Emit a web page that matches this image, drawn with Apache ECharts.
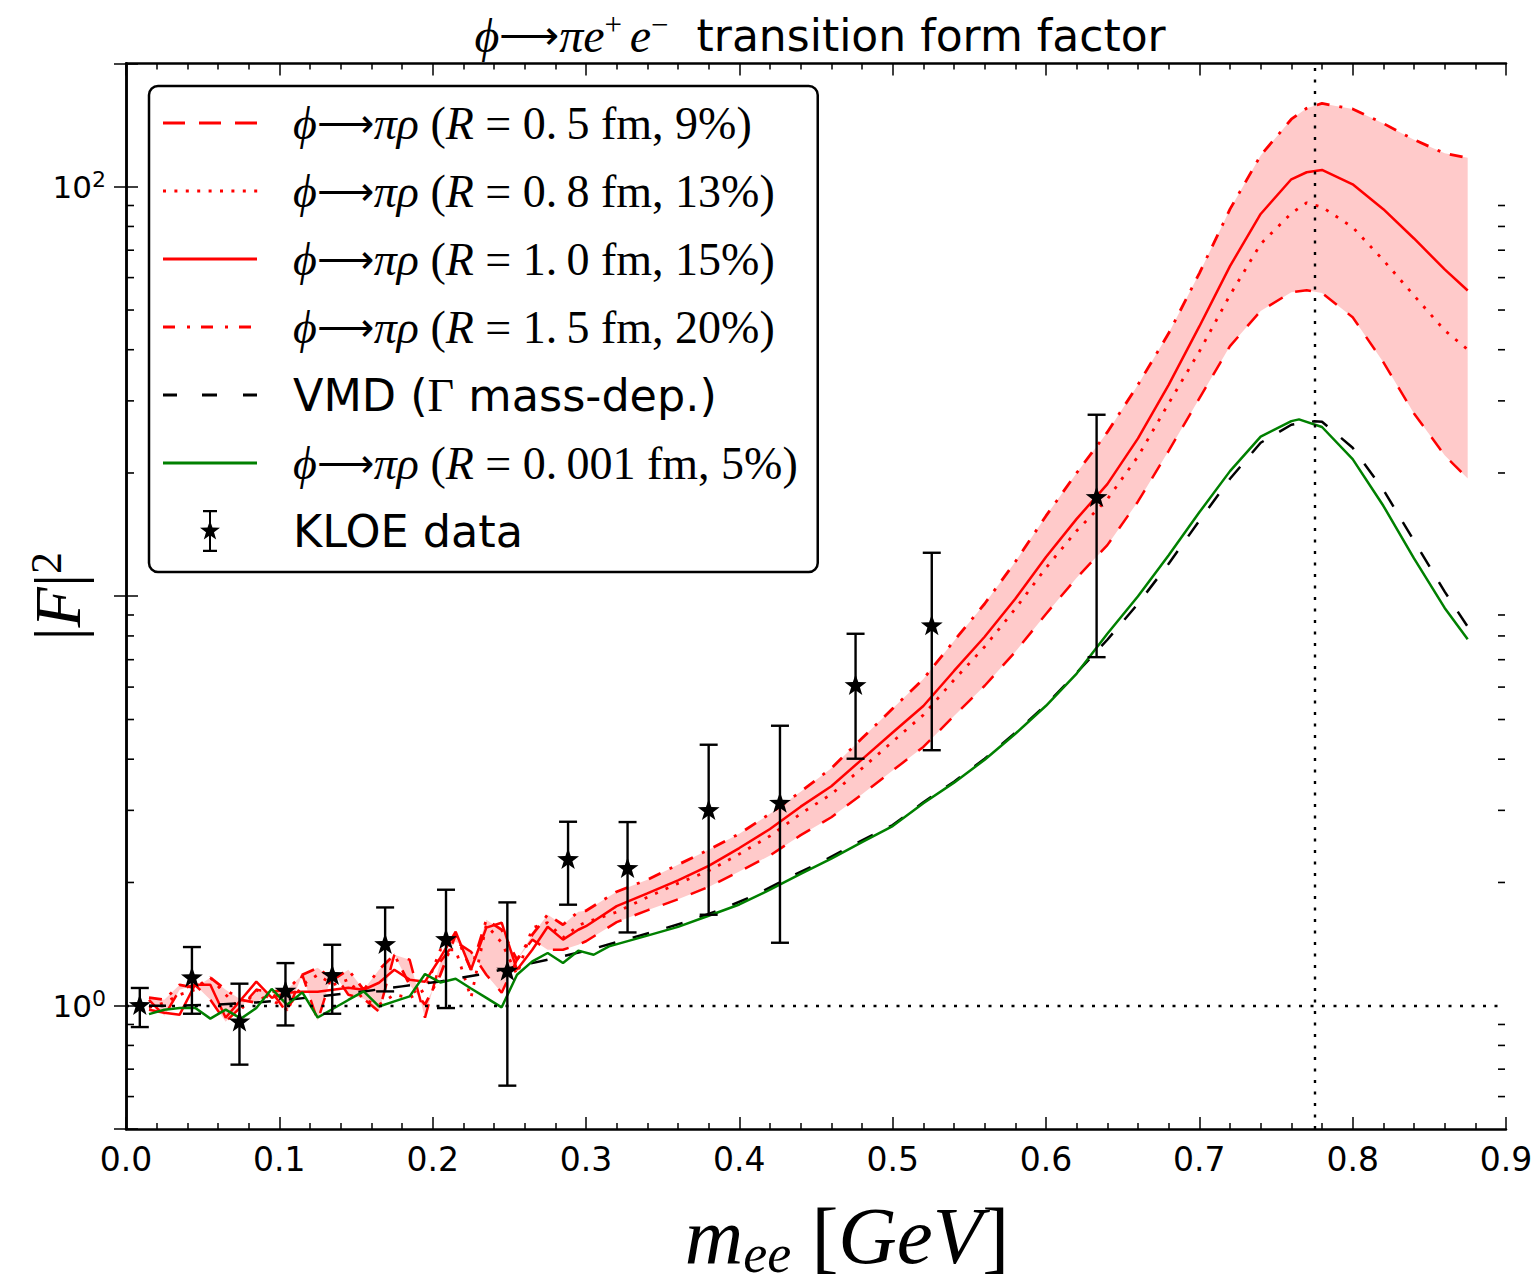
<!DOCTYPE html>
<html>
<head>
<meta charset="utf-8">
<script src="https://cdn.jsdelivr.net/npm/echarts@6/dist/echarts.min.js"></script>
<style>html,body{margin:0;padding:0;background:#fff}#c{width:1539px;height:1286px}</style>
</head>
<body>
<div id="c"></div>
<script>
// ---------------- data ----------------
const xRed = [0.015,0.025,0.035,0.045,0.055,0.065,0.075,0.085,0.095,0.105,0.115,0.125,0.135,0.145,0.155,0.165,0.175,0.185,0.195,0.205,0.215,0.225,0.235,0.245,0.255,0.265,0.275,0.285,0.295,
  0.30,0.32,0.34,0.36,0.38,0.40,0.42,0.44,0.46,0.48,0.50,0.52,0.54,0.56,0.58,0.60,0.62,0.64,0.66,0.68,0.70,0.72,0.74,0.76,0.77,0.78,0.80,0.82,0.84,0.86,0.875];
// R = 0.5 fm (dashed, lower edge of band)
const r05 = [1.034,0.945,1.094,1.125,1.034,0.914,0.994,1.094,1.082,0.961,1.190,0.919,1.211,1.064,1.040,0.967,1.332,1.295,0.935,1.281,1.433,1.355,1.190,1.076,1.295,1.450,1.370,1.370,1.409,
  1.437,1.600,1.710,1.819,1.951,2.127,2.328,2.610,2.886,3.283,3.753,4.286,5.102,6.046,7.320,9.053,11.09,13.33,17.04,22.65,30.41,40.83,49.75,55.25,55.87,55.00,48.02,37.30,27.95,22.09,19.39];
// R = 0.8 fm (dotted)
const r08 = [0.989,1.017,1.064,1.094,1.171,1.064,0.978,1.094,1.034,0.978,1.125,1.190,1.125,1.158,1.034,1.006,1.064,1.046,1.094,1.370,1.370,1.046,1.577,1.425,1.190,1.551,1.595,1.466,1.568,
  1.599,1.693,1.840,1.990,2.135,2.347,2.598,2.945,3.285,3.800,4.418,5.130,6.246,7.528,9.321,11.73,14.45,17.26,21.95,29.59,39.61,54.38,72.50,86.15,91.40,89.23,79.65,66.18,54.27,44.59,40.05];
// R = 1.0 fm (solid)
const r10 = [0.978,0.961,0.951,1.125,1.125,0.935,1.034,1.145,1.046,1.076,1.082,1.082,1.094,1.107,1.094,1.138,1.224,1.158,1.145,1.310,1.516,1.224,1.551,1.595,1.224,1.370,1.559,1.450,1.533,
  1.564,1.751,1.881,2.024,2.196,2.427,2.702,3.063,3.436,3.997,4.647,5.396,6.570,7.963,9.861,12.47,15.45,18.78,24.29,32.83,45.59,64.02,85.82,104.3,108.5,109.9,101.4,88.17,74.77,62.84,55.81];
// R = 1.5 fm (dash-dot, upper edge of band)
const r15 = [1.046,1.034,1.125,1.107,1.171,1.094,1.034,1.017,1.082,1.094,1.190,1.238,1.158,1.224,1.094,1.224,1.332,1.125,1.006,1.190,1.491,1.224,1.622,1.533,1.295,1.491,1.669,1.577,1.697,
  1.706,1.899,2.031,2.210,2.404,2.630,2.944,3.331,3.802,4.498,5.318,6.281,7.778,9.587,12.14,15.71,20.01,25.16,32.85,43.86,61.48,88.17,119.3,146.2,155.5,159.8,154.9,142.8,130.3,120.7,117.7];

const xGreen = [0.015,0.025,0.035,0.045,0.055,0.065,0.075,0.085,0.095,0.105,0.115,0.125,0.135,0.145,0.155,0.165,0.175,0.185,0.195,0.205,0.215,0.225,0.235,0.245,0.255,0.265,0.275,0.285,0.295,0.305,0.315,
  0.34,0.36,0.38,0.40,0.42,0.44,0.46,0.48,0.50,0.52,0.54,0.56,0.58,0.60,0.62,0.64,0.66,0.68,0.70,0.72,0.74,0.76,0.765,0.78,0.80,0.82,0.84,0.86,0.875];
// R = 0.001 fm (green)
const r0001 = [0.954,0.978,0.987,0.989,0.930,0.978,0.930,0.987,1.099,1.006,1.078,0.936,0.983,1.033,1.084,0.996,1.025,1.054,1.195,1.140,1.164,1.102,1.045,0.991,1.190,1.283,1.345,1.272,1.363,1.332,1.396,
  1.483,1.558,1.659,1.767,1.920,2.098,2.286,2.509,2.747,3.123,3.506,3.988,4.616,5.402,6.474,8.098,10.00,12.60,16.03,20.21,24.53,26.77,27.04,25.90,21.62,16.63,12.38,9.363,7.852];

const xVmd = [0.015,0.035,0.06,0.085,0.11,0.13,0.155,0.18,0.205,0.23,0.25,0.275,0.30,0.32,0.345,0.365,0.39,0.41,0.435,0.455,
  0.475,0.50,0.52,0.54,0.56,0.58,0.60,0.62,0.64,0.66,0.68,0.70,0.72,0.74,0.76,0.775,0.78,0.80,0.82,0.84,0.86,0.875];
const vmd = [1.000,1.001,1.006,1.019,1.038,1.058,1.084,1.115,1.146,1.191,1.236,1.295,1.362,1.430,1.520,1.600,1.730,1.860,2.080,2.260,
  2.480,2.762,3.140,3.524,4.011,4.642,5.433,6.504,7.830,9.587,12.01,15.29,19.36,23.71,26.23,26.75,26.68,23.05,18.20,13.66,10.26,8.425];

// KLOE data points with error bar ends
const kloeX  = [0.009,0.043,0.074,0.104,0.1345,0.169,0.2087,0.2487,0.2883,0.3271,0.380,0.4265,0.4758,0.5255,0.633];
const kloeY  = [1.00,1.169,0.912,1.084,1.184,1.409,1.449,1.213,2.273,2.161,2.994,3.119,6.046,8.46,17.40];
const kloeLo = [0.887,0.956,0.718,0.895,0.956,1.084,0.987,0.638,1.765,1.510,1.668,1.425,4.011,4.207,7.10];
const kloeHi = [1.105,1.391,1.132,1.271,1.409,1.738,1.920,1.788,2.814,2.809,4.339,4.828,8.098,12.77,27.75];

// reference lines, axis ranges and tick values
const refLineY = 1;        // |F|^2 = 1
const refLineX = 0.775;    // rho mass
const xMin = 0, xMax = 0.9, xStep = 0.1;
const yMin = 0.5, yMax = 200;
const yLabelExps = [0, 2];
const yMinorTicks = [0.6,0.7,0.8,0.9,2,3,4,5,6,7,8,9,20,30,40,50,60,70,80,90];

const legendNames = [
  'ϕ→πρ (R = 0.5 fm, 9%)',
  'ϕ→πρ (R = 0.8 fm, 13%)',
  'ϕ→πρ (R = 1.0 fm, 15%)',
  'ϕ→πρ (R = 1.5 fm, 20%)',
  'VMD (Γ mass-dep.)',
  'ϕ→πρ (R = 0.001 fm, 5%)',
  'KLOE data'
];

// ---------------- styling helpers ----------------
const RED = '#ff0000', GREEN = '#008000', BLACK = '#000000', BAND = '#ffcaca';
const LW = 2.5;
const pairs = (xs, ys) => xs.map((x, i) => [x, ys[i]]);

function starPoints(cx, cy, R, r) {
  const p = [];
  for (let k = 0; k < 10; k++) {
    const a = (-90 + k * 36) * Math.PI / 180;
    const rad = k % 2 === 0 ? R : r;
    p.push([cx + rad * Math.cos(a), cy + rad * Math.sin(a)]);
  }
  return p;
}

// legend icons (path icons in a 125 x 48 box)
const IW = 125, IH = 48, CY = 24;
const corners = `M0 0h0.05v0.05h-0.05Z M${IW - 0.05} ${IH - 0.05}h0.05v0.05h-0.05Z`;
const segs = (list, th) => list.map(([a, b]) => `M${a} ${CY - th / 2}H${b}V${CY + th / 2}H${a}Z`).join(' ');
const dots = [];
for (let k = 0; k < 9; k++) dots.push([k * 11.4, k * 11.4 + 3]);
const starPathStr = starPoints(47, CY, 10.5, 4.2).map((p, i) => (i ? 'L' : 'M') + p[0].toFixed(2) + ' ' + p[1].toFixed(2)).join('') + 'Z';
const legendIcons = [
  'path://' + corners + ' ' + segs([[0, 22], [36, 58], [72, 94]], 3),
  'path://' + corners + ' ' + segs(dots, 3),
  'path://' + corners + ' ' + segs([[0, 94]], 3),
  'path://' + corners + ' ' + segs([[0, 12], [24, 27], [38, 50], [62, 65], [76, 88]], 3),
  'path://' + corners + ' ' + segs([[0, 14], [39, 54], [80, 94]], 3),
  'path://' + corners + ' ' + segs([[0, 94]], 3.2),
  'path://' + corners + ` M46 4H48V44H46Z M40 3H54V5.2H40Z M40 42.8H54V45H40Z ` + starPathStr
];
const legendColors = [RED, RED, RED, RED, BLACK, GREEN, BLACK];

function legendRich(name) {
  const m = name.match(/^ϕ→πρ \(R = ([\d.]+) fm, (\d+%)\)$/);
  if (m) {
    const num = m[1].replace('.', '.\u2009');
    return `{g|ϕ}{a|⟶}{g|πρ}{n| (}{g|R}{n| = ${num} fm, ${m[2]})}`;
  }
  if (name.indexOf('VMD') === 0) return '{s|VMD (}{n|Γ}{s| mass-dep.)}';
  return `{s|${name}}`;
}

const SERIF = 'Liberation Serif';
const SANS = 'DejaVu Sans';

function minorTickItem(api, xVal, dir) {
  const p = api.coord([xVal, api.value(1)]);
  const x0 = dir > 0 ? p[0] + 1 : p[0] - 8;
  return { type: 'rect', shape: { x: x0, y: p[1] - 0.8, width: 7, height: 1.6 }, style: { fill: BLACK } };
}

const option = {
  animation: false,
  backgroundColor: '#ffffff',
  title: {
    text: '{g|ϕ}{a|⟶}{g|πe}{sup|+ }{g|e}{sup|−}{t|  transition form factor}',
    left: 815, top: 4, textAlign: 'center',
    textStyle: {
      fontWeight: 'normal',
      rich: {
        g: { fontFamily: SERIF, fontStyle: 'italic', fontWeight: 'normal', fontSize: 48, lineHeight: 52, color: BLACK },
        a: { fontFamily: SERIF, fontWeight: 'normal', fontSize: 42, lineHeight: 52, color: BLACK },
        sup: { fontFamily: SERIF, fontWeight: 'normal', fontSize: 31, lineHeight: 30, verticalAlign: 'top', color: BLACK },
        t: { fontFamily: SANS, fontWeight: 'normal', fontSize: 44, lineHeight: 52, color: BLACK }
      }
    }
  },
  grid: { left: 126, top: 63.5, width: 1380, height: 1065.5, containLabel: false, outerBoundsMode: 'none' },
  legend: {
    orient: 'vertical', left: 149, top: 86,
    padding: [13, 20, 17, 14],
    itemWidth: IW, itemHeight: IH, itemGap: 20,
    borderColor: BLACK, borderWidth: 2.5, borderRadius: 9, backgroundColor: '#ffffff',
    selectedMode: false,
    itemStyle: { borderWidth: 0 },
    data: legendNames.map((n, i) => ({ name: n, icon: legendIcons[i], itemStyle: { color: legendColors[i], borderWidth: 0 } })),
    formatter: legendRich,
    textStyle: {
      color: BLACK, fontSize: 44, lineHeight: 48,
      rich: {
        g: { fontFamily: SERIF, fontStyle: 'italic', fontSize: 46, lineHeight: 48, color: BLACK },
        a: { fontFamily: SERIF, fontSize: 40, lineHeight: 48, color: BLACK },
        n: { fontFamily: SERIF, fontSize: 46, lineHeight: 48, color: BLACK },
        s: { fontFamily: SANS, fontSize: 44.5, lineHeight: 48, color: BLACK }
      }
    }
  },
  xAxis: [
    {
      type: 'value', min: xMin, max: xMax, interval: xStep, position: 'bottom',
      name: '{i|m}{sub|ee}{n| [}{i|GeV}{n|]}', nameLocation: 'middle', nameGap: 62, nameMoveOverlap: false,
      nameTextStyle: {
        padding: [0, 0, 0, 62],
        rich: {
          i: { fontFamily: SERIF, fontStyle: 'italic', fontSize: 81, lineHeight: 90, color: BLACK },
          n: { fontFamily: SERIF, fontSize: 81, lineHeight: 90, color: BLACK },
          sub: { fontFamily: SERIF, fontStyle: 'italic', fontSize: 54, lineHeight: 54, verticalAlign: 'bottom', color: BLACK }
        }
      },
      axisLine: { show: true, lineStyle: { color: BLACK, width: 2.5 } },
      axisTick: { show: true, inside: true, length: 12, lineStyle: { color: BLACK, width: 1.5 } },
      minorTick: { show: true, splitNumber: 5, length: 6, lineStyle: { color: BLACK, width: 1.5 } },
      axisLabel: { show: true, margin: 14, fontFamily: SANS, fontSize: 33, color: BLACK, formatter: v => v.toFixed(1) },
      splitLine: { show: false }, minorSplitLine: { show: false }
    },
    {
      type: 'value', min: xMin, max: xMax, interval: xStep, position: 'top',
      axisLine: { show: true, lineStyle: { color: BLACK, width: 2.5 } },
      axisTick: { show: true, inside: true, length: 12, lineStyle: { color: BLACK, width: 1.5 } },
      minorTick: { show: true, splitNumber: 5, length: 6, lineStyle: { color: BLACK, width: 1.5 } },
      axisLabel: { show: false }, splitLine: { show: false }
    }
  ],
  yAxis: [
    {
      type: 'log', logBase: 10, min: yMin, max: yMax, position: 'left',
      name: '{n||}{i|F}{n||}{sup|2}', nameLocation: 'middle', nameGap: 36, nameRotate: 90, nameMoveOverlap: false,
      nameTextStyle: {
        rich: {
          i: { fontFamily: SERIF, fontStyle: 'italic', fontSize: 66, lineHeight: 66, color: BLACK },
          n: { fontFamily: SERIF, fontSize: 66, lineHeight: 66, color: BLACK },
          sup: { fontFamily: SERIF, fontSize: 44, lineHeight: 44, verticalAlign: 'top', color: BLACK }
        }
      },
      axisLine: { show: true, lineStyle: { color: BLACK, width: 2.5 } },
      axisTick: { show: true, inside: true, length: 12, lineStyle: { color: BLACK, width: 1.5 } },
      axisLabel: {
        show: true, margin: 20, color: BLACK,
        formatter: v => {
          const e = Math.round(Math.log10(v));
          if (Math.abs(v - Math.pow(10, e)) < 1e-6 * Math.pow(10, e) && yLabelExps.indexOf(e) >= 0) return '{n|10}{sup|' + e + '}';
          return '';
        },
        rich: {
          n: { fontFamily: SANS, fontSize: 31, lineHeight: 36, color: BLACK },
          sup: { fontFamily: SANS, fontSize: 22, lineHeight: 22, verticalAlign: 'top', color: BLACK }
        }
      },
      splitLine: { show: false }
    },
    {
      type: 'log', logBase: 10, min: yMin, max: yMax, position: 'right',
      axisLine: { show: true, lineStyle: { color: BLACK, width: 2.5 } },
      axisTick: { show: true, inside: true, length: 12, lineStyle: { color: BLACK, width: 1.5 } },
      axisLabel: { show: false }, splitLine: { show: false }
    }
  ],
  series: [
    {
      name: 'band', type: 'custom', xAxisIndex: 0, yAxisIndex: 0, silent: true, z: 1,
      data: xRed.map((x, i) => [x, r05[i], r15[i]]),
      encode: { x: 0, y: [1, 2] },
      renderItem: (params, api) => {
        if (params.dataIndexInside !== 0) return null;
        const n = params.dataInsideLength;
        const up = [], lo = [];
        for (let i = 0; i < n; i++) {
          up.push(api.coord([api.value(0, i), api.value(2, i)]));
          lo.push(api.coord([api.value(0, i), api.value(1, i)]));
        }
        return { type: 'polygon', shape: { points: up.concat(lo.reverse()) }, style: { fill: BAND, stroke: null } };
      }
    },
    {
      name: legendNames[0], type: 'line', data: pairs(xRed, r05), symbol: 'none', z: 3,
      itemStyle: { color: RED }, lineStyle: { color: RED, width: LW, type: [16, 14], cap: 'butt' }
    },
    {
      name: legendNames[1], type: 'line', data: pairs(xRed, r08), symbol: 'none', z: 3,
      itemStyle: { color: RED }, lineStyle: { color: RED, width: LW + 0.3, type: [3, 8.5], cap: 'butt' }
    },
    {
      name: legendNames[2], type: 'line', data: pairs(xRed, r10), symbol: 'none', z: 3,
      itemStyle: { color: RED }, lineStyle: { color: RED, width: LW }
    },
    {
      name: legendNames[3], type: 'line', data: pairs(xRed, r15), symbol: 'none', z: 3,
      itemStyle: { color: RED }, lineStyle: { color: RED, width: LW + 0.3, type: [13, 10, 3, 10], cap: 'butt' }
    },
    {
      name: legendNames[4], type: 'line', data: pairs(xVmd, vmd), symbol: 'none', z: 3,
      itemStyle: { color: BLACK }, lineStyle: { color: BLACK, width: LW, type: [17, 18], cap: 'butt' },
      markLine: {
        silent: true, symbol: ['none', 'none'], label: { show: false }, animation: false, precision: 6,
        lineStyle: { color: BLACK, width: 2.4, type: [3, 8.5] },
        data: [{ yAxis: refLineY }, { xAxis: refLineX }]
      }
    },
    {
      name: legendNames[5], type: 'line', data: pairs(xGreen, r0001), symbol: 'none', z: 4,
      itemStyle: { color: GREEN }, lineStyle: { color: GREEN, width: LW }
    },
    {
      name: legendNames[6], type: 'custom', z: 5, itemStyle: { color: BLACK },
      data: kloeX.map((x, i) => [x, kloeY[i], kloeLo[i], kloeHi[i]]),
      encode: { x: 0, y: [1, 2, 3] },
      renderItem: (params, api) => {
        const x = api.value(0);
        const c = api.coord([x, api.value(1)]);
        const cl = api.coord([x, api.value(2)]);
        const ch = api.coord([x, api.value(3)]);
        const cap = 9, st = { stroke: BLACK, lineWidth: 2.4 };
        return {
          type: 'group', children: [
            { type: 'line', shape: { x1: c[0], y1: ch[1], x2: c[0], y2: cl[1] }, style: st },
            { type: 'line', shape: { x1: c[0] - cap, y1: ch[1], x2: c[0] + cap, y2: ch[1] }, style: st },
            { type: 'line', shape: { x1: c[0] - cap, y1: cl[1], x2: c[0] + cap, y2: cl[1] }, style: st },
            { type: 'polygon', shape: { points: starPoints(c[0], c[1], 11.5, 4.6) }, style: { fill: BLACK } }
          ]
        };
      }
    },
    {
      name: 'yMinorTicksLeft', type: 'custom', silent: true, z: 20, clip: false,
      data: yMinorTicks.map(v => [0.05, v]),
      encode: { x: 0, y: 1 },
      renderItem: (params, api) => minorTickItem(api, xMin, 1)
    },
    {
      name: 'yMinorTicksRight', type: 'custom', silent: true, z: 20, clip: false,
      data: yMinorTicks.map(v => [0.85, v]),
      encode: { x: 0, y: 1 },
      renderItem: (params, api) => minorTickItem(api, xMax, -1)
    }
  ]
};

const chart = echarts.init(document.getElementById('c'), null, { renderer: 'svg', width: 1539, height: 1286 });
chart.setOption(option);
</script>
</body>
</html>
